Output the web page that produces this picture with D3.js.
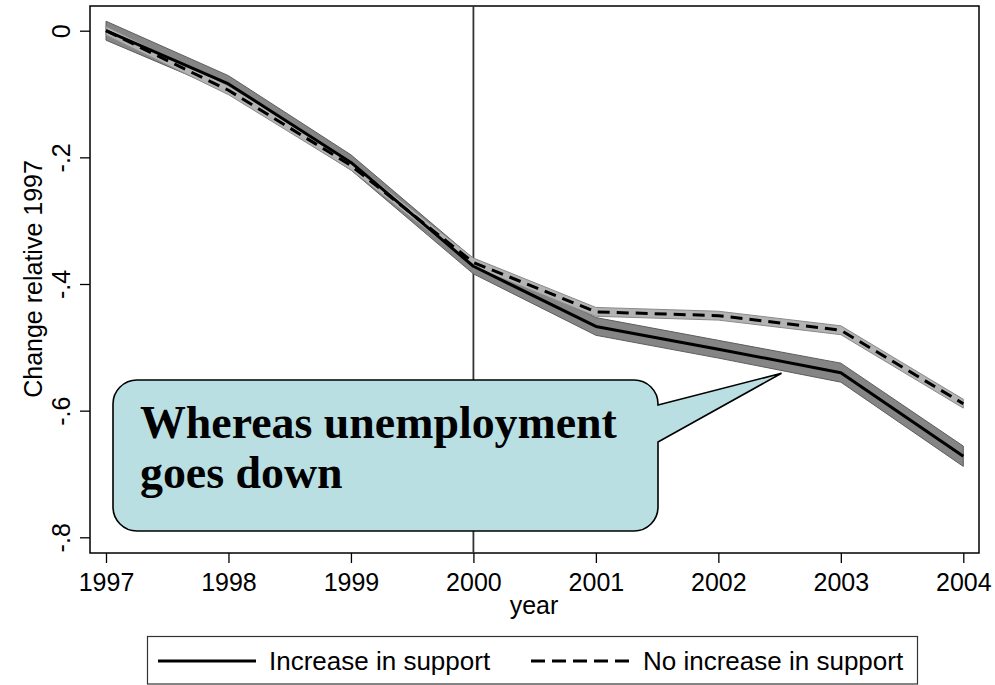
<!DOCTYPE html>
<html>
<head>
<meta charset="utf-8">
<script src="https://cdn.jsdelivr.net/npm/d3@7"></script>
<style>
  html, body { margin: 0; padding: 0; background: #fff; }
  svg { display: block; }
</style>
</head>
<body>
<svg id="chart" width="995" height="685"></svg>
<script>
// Years on the x axis
const years = [1997, 1998, 1999, 2000, 2001, 2002, 2003, 2004];

// Regions with an increase in support: mean change and confidence band
const incMean = [0, -0.084, -0.208, -0.372, -0.467, -0.503, -0.540, -0.672];
const incLo   = [-0.015, -0.097, -0.220, -0.384, -0.481, -0.517, -0.555, -0.688];
const incHi   = [0.015, -0.071, -0.196, -0.360, -0.453, -0.489, -0.525, -0.656];

// Regions with no increase in support
const noMean = [0, -0.094, -0.213, -0.366, -0.444, -0.450, -0.473, -0.589];
const noLo   = [-0.007, -0.101, -0.220, -0.373, -0.451, -0.457, -0.480, -0.596];
const noHi   = [0.007, -0.087, -0.206, -0.359, -0.437, -0.443, -0.466, -0.582];

const yTicks = [0, -0.2, -0.4, -0.6, -0.8];
const yTickLabels = ["0", "-.2", "-.4", "-.6", "-.8"];
const seriesNames = ["Increase in support", "No increase in support"];
const markerYear = 2000;
const calloutLines = ["Whereas unemployment", "goes down"];

const SANS = "'Liberation Sans', Arial, Helvetica, sans-serif";
const SERIF = "'Liberation Serif', 'DejaVu Serif', serif";
const FS = 25;

const svg = d3.select("#chart");

// Plot frame
const frame = { left: 90, right: 979, top: 6, bottom: 553 };

const x = d3.scaleLinear().domain([1997, 2004]).range([106, 963.3]);
const y = d3.scaleLinear().domain([0, -0.8]).range([30.7, 537.3]);

svg.append("rect")
  .attr("x", frame.left).attr("y", frame.top)
  .attr("width", frame.right - frame.left)
  .attr("height", frame.bottom - frame.top)
  .attr("fill", "#fff").attr("stroke", "#000").attr("stroke-width", 1.5);

// Y axis
const yAxis = d3.axisLeft(y).tickValues(yTicks)
  .tickFormat((d, i) => yTickLabels[i]).tickSize(10).tickPadding(0);
const gy = svg.append("g").attr("transform", `translate(${frame.left},0)`).call(yAxis);
gy.select(".domain").remove();
gy.selectAll(".tick line").attr("stroke", "#000").attr("stroke-width", 1.3);
gy.selectAll(".tick text")
  .attr("x", 0).attr("dy", 0).attr("y", 0)
  .attr("transform", "translate(-20,0) rotate(-90)")
  .attr("text-anchor", "middle")
  .attr("fill", "#000")
  .style("font-family", SANS).style("font-size", FS + "px");

// X axis
const xAxis = d3.axisBottom(x).tickValues(years).tickFormat(d3.format("d"))
  .tickSize(10).tickPadding(0);
const gx = svg.append("g").attr("transform", `translate(0,${frame.bottom})`).call(xAxis);
gx.select(".domain").remove();
gx.selectAll(".tick line").attr("stroke", "#000").attr("stroke-width", 1.3);
gx.selectAll(".tick text")
  .attr("y", 38).attr("dy", 0)
  .attr("fill", "#000")
  .style("font-family", SANS).style("font-size", FS + "px");

// Axis titles
svg.append("text").attr("x", 534).attr("y", 614)
  .attr("text-anchor", "middle")
  .style("font-family", SANS).style("font-size", FS + "px").text("year");
svg.append("text")
  .attr("transform", "translate(42,279) rotate(-90)")
  .attr("text-anchor", "middle")
  .style("font-family", SANS).style("font-size", FS + "px")
  .text("Change relative 1997");

// Vertical reference line
svg.append("line")
  .attr("x1", x(markerYear)).attr("x2", x(markerYear))
  .attr("y1", frame.top).attr("y2", frame.bottom)
  .attr("stroke", "#333").attr("stroke-width", 1.8);

// Bands and lines
const area = (lo, hi) => d3.area()
  .x((d, i) => x(years[i])).y0((d, i) => y(lo[i])).y1((d, i) => y(hi[i]))(years);
const line = (vals) => d3.line().x((d, i) => x(years[i])).y((d, i) => y(vals[i]))(years);

svg.append("path").attr("d", area(incLo, incHi))
  .attr("fill", "#858585").attr("stroke", "#5e5e5e").attr("stroke-width", 1);
svg.append("path").attr("d", area(noLo, noHi))
  .attr("fill", "#b3b3b3").attr("stroke", "#8a8a8a").attr("stroke-width", 1);

svg.append("path").attr("d", line(incMean))
  .attr("fill", "none").attr("stroke", "#000").attr("stroke-width", 3)
  .attr("stroke-linejoin", "round");
svg.append("path").attr("d", line(noMean))
  .attr("fill", "none").attr("stroke", "#000").attr("stroke-width", 3)
  .attr("stroke-dasharray", "12,7");

// Callout bubble pointing at the declining line
const bx0 = 113, bx1 = 658, by0 = 380, by1 = 531, r = 24;
const tip = [781.5, 373.3];
const bubble = d3.path();
bubble.moveTo(bx0 + r, by0);
bubble.lineTo(bx1 - r, by0);
bubble.arcTo(bx1, by0, bx1, by0 + r, r);
bubble.lineTo(bx1, 405);
bubble.lineTo(tip[0], tip[1]);
bubble.lineTo(bx1, 442);
bubble.lineTo(bx1, by1 - r);
bubble.arcTo(bx1, by1, bx1 - r, by1, r);
bubble.lineTo(bx0 + r, by1);
bubble.arcTo(bx0, by1, bx0, by1 - r, r);
bubble.lineTo(bx0, by0 + r);
bubble.arcTo(bx0, by0, bx0 + r, by0, r);
bubble.closePath();
svg.append("path").attr("d", bubble.toString())
  .attr("fill", "#b9dfe3").attr("stroke", "#000").attr("stroke-width", 1.6)
  .attr("stroke-linejoin", "miter");

const ct = svg.append("text")
  .style("font-family", SERIF).style("font-weight", "bold")
  .style("font-size", "36px").attr("fill", "#000");
ct.selectAll("tspan").data(calloutLines).join("tspan")
  .attr("x", 140).attr("y", (d, i) => 438 + i * 50).text(d => d);
// size the callout text so the first line spans the bubble's text area
const w = ct.select("tspan").node().getComputedTextLength();
ct.style("font-size", (36 * 477 / w) + "px");

// Legend
const lg = svg.append("g");
lg.append("rect").attr("x", 147.5).attr("y", 636.5).attr("width", 770).attr("height", 47.5)
  .attr("fill", "#fff").attr("stroke", "#333").attr("stroke-width", 1.2);
lg.append("line").attr("x1", 158).attr("x2", 256).attr("y1", 661).attr("y2", 661)
  .attr("stroke", "#000").attr("stroke-width", 3);
lg.append("text").attr("x", 269).attr("y", 670)
  .style("font-family", SANS).style("font-size", "26px").text(seriesNames[0]);
lg.append("line").attr("x1", 531).attr("x2", 629).attr("y1", 661).attr("y2", 661)
  .attr("stroke", "#000").attr("stroke-width", 3).attr("stroke-dasharray", "14,7");
lg.append("text").attr("x", 643).attr("y", 670)
  .style("font-family", SANS).style("font-size", "26px").text(seriesNames[1]);
</script>
</body>
</html>
